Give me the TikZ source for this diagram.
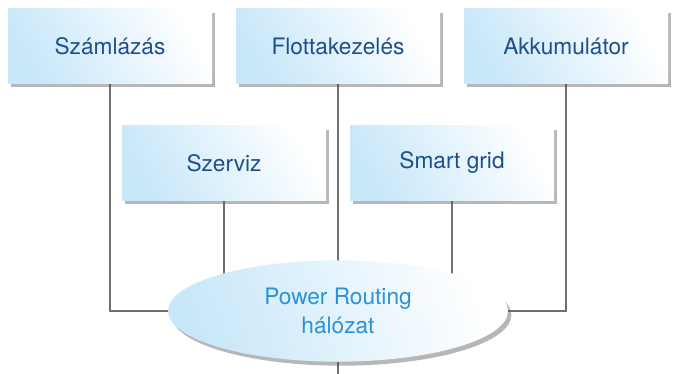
\documentclass[tikz,border=0pt]{standalone}
\usepackage{fontspec}
\setmainfont{TeX Gyre Heros}
\usetikzlibrary{shapes.geometric,shadows,backgrounds}
\definecolor{boxtext}{HTML}{1E4F8C}
\definecolor{nettext}{HTML}{2A93D5}
\definecolor{lightblue}{HTML}{C8E7F9}
\definecolor{linegray}{HTML}{707070}
\tikzset{
  box/.style={rectangle, minimum width=153pt, minimum height=56pt, inner sep=0pt,
    left color=lightblue, right color=white, shading angle=120,
    drop shadow={shadow xshift=2.5pt, shadow yshift=-3pt, opacity=0.4, fill=black!70},
    text=boxtext, font=\fontsize{17}{20}\selectfont},
  net/.style={ellipse, minimum width=255pt, minimum height=76pt, inner sep=0pt,
    left color=lightblue, right color=white, shading angle=110,
    drop shadow={shadow xshift=2.5pt, shadow yshift=-3pt, opacity=0.4, fill=black!70},
    text=nettext, align=center, font=\fontsize{17}{22}\selectfont},
  conn/.style={draw=linegray, line width=0.8pt}
}
\begin{document}
\begin{tikzpicture}[x=0.75pt,y=-0.75pt]
\useasboundingbox (0,0) rectangle (681,374);
\node[box] (szam) at (110,46) {Számlázás};
\node[box] (flotta) at (338,46) {Flottakezelés};
\node[box] (akku) at (566,46) {Akkumulátor};
\node[box] (szerviz) at (224,163) {Szerviz};
\node[box] (smart) at (452,163) {Smart grid};
\node[net] (netw) at (338,311) {Power Routing\\hálózat};
\coordinate (bottom) at (338,374);
\begin{scope}[on background layer]
\fill[white] (0,0) rectangle (681,374);
\draw[conn] (szam.south) |- (netw.west);
\draw[conn] (akku.south) |- (netw.east);
\draw[conn] (flotta.south) -- (netw.center);
\draw[conn] (szerviz.south) -- (szerviz.south |- netw.center);
\draw[conn] (smart.south) -- (smart.south |- netw.center);
\draw[conn] (netw.south) -- (bottom);
\end{scope}
\end{tikzpicture}
\end{document}
